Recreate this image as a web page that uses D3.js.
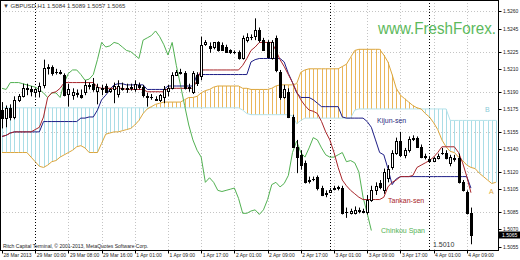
<!DOCTYPE html>
<html>
<head>
<meta charset="utf-8">
<script src="https://cdn.jsdelivr.net/npm/d3@7"></script>
<style>
  body { margin: 0; background: #fff; }
  svg text { font-family: "Liberation Sans", Arial, sans-serif; }
</style>
</head>
<body>
<div id="graph"></div>
<script>
// GBPUSD H1, first bar is 28 Mar 2013 16:00, one value per bar
let opens = [
  1.5174,1.5167,1.5176,1.5168,1.5183,1.5186,1.5193,1.5192,1.5190,1.5191,
  1.5196,1.5211,1.5212,1.5207,1.5207,1.5205,1.5188,1.5187,1.5189,1.5187,
  1.5190,1.5196,1.5197,1.5191,1.5193,1.5195,1.5191,1.5192,1.5188,1.5193,
  1.5192,1.5193,1.5192,1.5196,1.5194,1.5186,1.5185,1.5184,1.5183,1.5185,
  1.5191,1.5193,1.5205,1.5207,1.5206,1.5194,1.5190,1.5205,1.5204,1.5232,
  1.5230,1.5229,1.5233,1.5231,1.5229,1.5226,1.5225,1.5225,1.5219,1.5235,
  1.5238,1.5239,1.5244,1.5235,1.5233,1.5219,1.5237,1.5207,1.5185,1.5190,
  1.5168,1.5142,1.5135,1.5128,1.5113,1.5114,1.5116,1.5106,1.5101,1.5103,
  1.5105,1.5106,1.5106,1.5085,1.5084,1.5084,1.5087,1.5086,1.5085,1.5096,
  1.5104,1.5110,1.5104,1.5115,1.5124,1.5137,1.5147,1.5135,1.5139,1.5149,
  1.5150,1.5142,1.5133,1.5131,1.5130,1.5132,1.5137,1.5137,1.5128,1.5132,
  1.5132,1.5111,1.5103,1.5084];
let highs = [
  1.5181,1.5178,1.5179,1.5186,1.5188,1.5197,1.5197,1.5195,1.5193,1.5198,
  1.5218,1.5214,1.5213,1.5210,1.5209,1.5206,1.5197,1.5193,1.5192,1.5192,
  1.5200,1.5198,1.5202,1.5197,1.5196,1.5197,1.5193,1.5198,1.5200,1.5198,
  1.5197,1.5197,1.5200,1.5198,1.5196,1.5189,1.5188,1.5186,1.5188,1.5195,
  1.5196,1.5207,1.5209,1.5210,1.5208,1.5197,1.5208,1.5207,1.5238,1.5235,
  1.5233,1.5233,1.5234,1.5233,1.5231,1.5227,1.5226,1.5226,1.5239,1.5241,
  1.5240,1.5254,1.5246,1.5237,1.5235,1.5235,1.5239,1.5209,1.5196,1.5193,
  1.5170,1.5148,1.5139,1.5130,1.5116,1.5116,1.5117,1.5108,1.5104,1.5106,
  1.5108,1.5108,1.5108,1.5089,1.5088,1.5090,1.5089,1.5088,1.5100,1.5108,
  1.5111,1.5113,1.5123,1.5126,1.5139,1.5150,1.5155,1.5141,1.5151,1.5152,
  1.5151,1.5144,1.5136,1.5134,1.5133,1.5136,1.5141,1.5139,1.5135,1.5135,
  1.5136,1.5113,1.5104,1.5089];
let lows = [
  1.5158,1.5159,1.5165,1.5166,1.5181,1.5185,1.5187,1.5186,1.5185,1.5185,
  1.5193,1.5205,1.5204,1.5205,1.5205,1.5186,1.5177,1.5183,1.5185,1.5184,
  1.5187,1.5192,1.5190,1.5179,1.5187,1.5189,1.5189,1.5180,1.5185,1.5191,
  1.5189,1.5191,1.5190,1.5192,1.5185,1.5177,1.5183,1.5182,1.5181,1.5180,
  1.5186,1.5192,1.5204,1.5205,1.5192,1.5190,1.5188,1.5195,1.5200,1.5230,
  1.5224,1.5227,1.5225,1.5226,1.5224,1.5223,1.5223,1.5218,1.5218,1.5233,
  1.5235,1.5235,1.5233,1.5226,1.5219,1.5218,1.5207,1.5183,1.5184,1.5167,
  1.5141,1.5119,1.5122,1.5110,1.5110,1.5112,1.5104,1.5099,1.5098,1.5102,
  1.5104,1.5104,1.5083,1.5080,1.5083,1.5083,1.5084,1.5084,1.5083,1.5094,
  1.5100,1.5105,1.5101,1.5111,1.5122,1.5135,1.5133,1.5132,1.5137,1.5147,
  1.5141,1.5132,1.5131,1.5128,1.5129,1.5131,1.5135,1.5131,1.5125,1.5129,
  1.5110,1.5103,1.5083,1.5057];
let closes = [
  1.5167,1.5176,1.5168,1.5183,1.5186,1.5193,1.5192,1.5191,1.5192,1.5195,
  1.5211,1.5212,1.5206,1.5207,1.5206,1.5187,1.5192,1.5190,1.5188,1.5185,
  1.5196,1.5195,1.5192,1.5194,1.5192,1.5190,1.5192,1.5195,1.5195,1.5192,
  1.5193,1.5194,1.5197,1.5194,1.5187,1.5185,1.5185,1.5183,1.5187,1.5192,
  1.5193,1.5205,1.5207,1.5206,1.5193,1.5193,1.5206,1.5198,1.5231,1.5233,
  1.5228,1.5233,1.5226,1.5226,1.5225,1.5225,1.5225,1.5219,1.5237,1.5238,
  1.5238,1.5244,1.5235,1.5226,1.5220,1.5233,1.5209,1.5185,1.5192,1.5168,
  1.5142,1.5133,1.5126,1.5111,1.5112,1.5114,1.5106,1.5100,1.5102,1.5104,
  1.5106,1.5107,1.5084,1.5085,1.5086,1.5087,1.5086,1.5085,1.5096,1.5104,
  1.5108,1.5107,1.5120,1.5123,1.5137,1.5147,1.5135,1.5139,1.5149,1.5150,
  1.5142,1.5133,1.5134,1.5130,1.5132,1.5134,1.5137,1.5132,1.5133,1.5131,
  1.5111,1.5104,1.5084,1.5065];

// ichimoku lines, same bar index
let tenkan = [
  1.5151,1.5152,1.5154,1.5155,1.5155,1.5155,1.5155,1.5155,1.5157,1.5159,
  1.5168,1.5185,1.5189,1.5190,1.5193,1.5198,1.5198,1.5198,1.5198,1.5198,
  1.5198,1.5198,1.5198,1.5194,1.5193,1.5193,1.5193,1.5193,1.5193,1.5193,
  1.5192,1.5192,1.5192,1.5192,1.5192,1.5190,1.5190,1.5190,1.5190,1.5190,
  1.5193,1.5193,1.5193,1.5193,1.5193,1.5193,1.5193,1.5200,1.5209,1.5209,
  1.5209,1.5209,1.5209,1.5209,1.5209,1.5209,1.5209,1.5209,1.5213,1.5219,
  1.5226,1.5229,1.5233,1.5233,1.5233,1.5233,1.5226,1.5218,1.5212,1.5205,
  1.5198,1.5190,1.5183,1.5178,1.5174,1.5173,1.5171,1.5164,1.5155,1.5148,
  1.5137,1.5124,1.5113,1.5108,1.5104,1.5101,1.5098,1.5096,1.5096,1.5096,
  1.5096,1.5096,1.5098,1.5107,1.5111,1.5113,1.5116,1.5116,1.5116,1.5117,
  1.5124,1.5126,1.5128,1.5130,1.5133,1.5137,1.5142,1.5142,1.5142,1.5142,
  1.5137,1.5128,1.5116,1.5102];
let kijun = [
  1.5151,1.5152,1.5154,1.5155,1.5155,1.5155,1.5155,1.5155,1.5155,1.5155,
  1.5164,1.5164,1.5164,1.5164,1.5164,1.5164,1.5164,1.5164,1.5164,1.5167,
  1.5167,1.5168,1.5168,1.5174,1.5183,1.5187,1.5192,1.5196,1.5197,1.5197,
  1.5196,1.5196,1.5196,1.5196,1.5196,1.5192,1.5192,1.5192,1.5192,1.5192,
  1.5195,1.5195,1.5195,1.5195,1.5195,1.5195,1.5195,1.5205,1.5205,1.5205,
  1.5205,1.5205,1.5205,1.5205,1.5205,1.5205,1.5205,1.5205,1.5205,1.5205,
  1.5216,1.5218,1.5219,1.5219,1.5219,1.5219,1.5219,1.5219,1.5216,1.5206,
  1.5198,1.5189,1.5185,1.5185,1.5185,1.5183,1.5180,1.5177,1.5177,1.5177,
  1.5177,1.5177,1.5168,1.5167,1.5167,1.5167,1.5167,1.5167,1.5164,1.5159,
  1.5148,1.5137,1.5135,1.5123,1.5109,1.5114,1.5116,1.5116,1.5116,1.5116,
  1.5116,1.5116,1.5116,1.5116,1.5116,1.5116,1.5116,1.5116,1.5116,1.5116,
  1.5116,1.5116,1.5116,1.5106];
let chinkou = [
  1.5193,1.5192,1.5198,1.5198,1.5198,1.5197,1.5196,1.5195,1.5194,1.5192,
  1.5189,1.5185,1.5189,1.5189,1.5185,1.5198,1.5206,1.5209,1.5209,1.5205,
  1.5200,1.5201,1.5205,1.5218,1.5233,1.5229,1.5230,1.5233,1.5232,1.5229,
  1.5226,1.5225,1.5222,1.5219,1.5235,1.5237,1.5239,1.5243,1.5238,1.5231,
  1.5222,1.5233,1.5213,1.5196,1.5178,1.5161,1.5148,1.5139,1.5133,1.5111,
  1.5115,1.5111,1.5104,1.5103,1.5104,1.5105,1.5106,1.5097,1.5084,1.5084,
  1.5086,1.5087,1.5083,1.5087,1.5096,1.5109,1.5111,1.5107,1.5110,1.5117,
  1.5137,1.5147,1.5137,1.5133,1.5141,1.5150,1.5148,1.5141,1.5135,1.5133,
  1.5133,1.5135,1.5137,1.5129,1.5130,1.5128,1.5120,1.5098,1.5084,1.5069];
// cloud, runs past the last bar to the plot edge
let spanA = [
  1.5137,1.5137,1.5137,1.5137,1.5137,1.5137,1.5137,1.5133,1.5129,1.5125,
  1.5124,1.5126,1.5129,1.5130,1.5133,1.5135,1.5137,1.5139,1.5142,1.5143,
  1.5141,1.5137,1.5137,1.5137,1.5145,1.5153,1.5154,1.5155,1.5155,1.5156,
  1.5157,1.5158,1.5161,1.5165,1.5171,1.5175,1.5177,1.5179,1.5180,1.5181,
  1.5181,1.5181,1.5181,1.5181,1.5183,1.5185,1.5185,1.5186,1.5189,1.5191,
  1.5192,1.5194,1.5195,1.5195,1.5195,1.5195,1.5195,1.5195,1.5193,1.5193,
  1.5192,1.5192,1.5192,1.5192,1.5192,1.5193,1.5195,1.5196,1.5196,1.5196,
  1.5196,1.5197,1.5207,1.5209,1.5210,1.5210,1.5210,1.5210,1.5210,1.5210,
  1.5210,1.5210,1.5212,1.5214,1.5220,1.5226,1.5227,1.5227,1.5227,1.5227,
  1.5227,1.5227,1.5222,1.5216,1.5205,1.5193,1.5187,1.5184,1.5181,1.5178,
  1.5176,1.5175,1.5171,1.5168,1.5163,1.5157,1.5148,1.5142,1.5138,1.5137,
  1.5133,1.5130,1.5126,1.5124,1.5123,1.5119,1.5116,1.5113,1.5110,1.5111];
let spanB = [
  1.5176,1.5176,1.5176,1.5176,1.5176,1.5176,1.5176,1.5176,1.5176,1.5176,
  1.5176,1.5176,1.5176,1.5176,1.5176,1.5176,1.5176,1.5176,1.5176,1.5176,
  1.5176,1.5176,1.5176,1.5176,1.5176,1.5176,1.5176,1.5176,1.5176,1.5176,
  1.5176,1.5176,1.5176,1.5176,1.5176,1.5176,1.5176,1.5176,1.5176,1.5176,
  1.5176,1.5176,1.5176,1.5176,1.5176,1.5176,1.5176,1.5176,1.5176,1.5176,
  1.5176,1.5176,1.5176,1.5176,1.5176,1.5176,1.5176,1.5176,1.5174,1.5171,
  1.5170,1.5170,1.5170,1.5170,1.5170,1.5170,1.5170,1.5170,1.5170,1.5170,
  1.5169,1.5162,1.5165,1.5167,1.5167,1.5167,1.5167,1.5167,1.5167,1.5167,
  1.5167,1.5167,1.5167,1.5167,1.5167,1.5174,1.5175,1.5175,1.5175,1.5175,
  1.5175,1.5175,1.5175,1.5175,1.5175,1.5175,1.5175,1.5175,1.5175,1.5175,
  1.5175,1.5175,1.5175,1.5175,1.5175,1.5175,1.5175,1.5175,1.5165,1.5165,
  1.5165,1.5165,1.5165,1.5165,1.5165,1.5165,1.5165,1.5165,1.5165,1.5165];

// axis texts
let timeLabels = ["28 Mar 2013", "29 Mar 00:00", "29 Mar 08:00", "29 Mar 16:00",
  "1 Apr 01:00", "1 Apr 09:00", "1 Apr 17:00", "2 Apr 01:00", "2 Apr 09:00",
  "2 Apr 17:00", "3 Apr 01:00", "3 Apr 09:00", "3 Apr 17:00", "4 Apr 01:00",
  "4 Apr 09:00"];
let labelStep = 8;
let priceLabels = [1.5260, 1.5245, 1.5225, 1.5210, 1.5190, 1.5175, 1.5155,
  1.5140, 1.5120, 1.5105, 1.5085, 1.5070, 1.5055];
let gridPrices = [1.5260, 1.5225, 1.5190, 1.5155, 1.5120, 1.5085];
let separatorBars = [8, 79, 103];
let lastPrice = 1.5065;
let lowMark = 1.5010;

function drawChart() {
  let width = 520,
    height = 260,
    plotRight = 498,
    plotBottom = 250;

  let svg = d3
    .select("#graph")
    .append("svg")
    .attr("width", width)
    .attr("height", height)
    .style("display", "block");

  // bar index -> x, price -> y
  let x = d3.scaleLinear().domain([0, 100]).range([2, 417]);
  let y = d3.scaleLinear().domain([1.5052, 1.527]).range([plotBottom, 0]);
  let px = (i) => Math.round(x(i)) + 0.5;
  let py = (p) => Math.round(y(p)) + 0.5;

  svg.append("clipPath").attr("id", "plotClip").append("rect")
    .attr("x", 0).attr("y", 0).attr("width", plotRight).attr("height", plotBottom);
  let plot = svg.append("g").attr("clip-path", "url(#plotClip)");

  //dotted grid
  plot.selectAll(".hgrid").data(gridPrices).join("line")
    .attr("x1", 0).attr("x2", plotRight)
    .attr("y1", py).attr("y2", py)
    .attr("stroke", "#c4c4c4").attr("stroke-dasharray", "1,2");
  let labelBars = timeLabels.map((d, i) => i * labelStep);
  plot.selectAll(".vgrid").data(labelBars.slice(1)).join("line")
    .attr("x1", px).attr("x2", px)
    .attr("y1", 0).attr("y2", plotBottom)
    .attr("stroke", "#c4c4c4").attr("stroke-dasharray", "1,2");

  //day separators
  plot.selectAll(".sep").data(separatorBars).join("line")
    .attr("x1", px).attr("x2", px)
    .attr("y1", 0).attr("y2", plotBottom)
    .attr("stroke", "#000").attr("stroke-dasharray", "1,2");

  //cloud hatch, one stroke per bar
  plot.selectAll(".kumo").data(spanA).join("line")
    .attr("x1", (d, i) => px(i)).attr("x2", (d, i) => px(i))
    .attr("y1", (d) => y(d)).attr("y2", (d, i) => y(spanB[i]))
    .attr("stroke", (d, i) => (d > spanB[i] ? "#eab65a" : "#aadde6"))
    .attr("stroke-width", 1);

  let line = d3.line().x((d, i) => x(i)).y((d) => y(d));
  let addLine = (values, color) =>
    plot.append("path").datum(values)
      .attr("d", line).attr("fill", "none")
      .attr("stroke", color).attr("stroke-width", 1);

  addLine(spanB, "#b4e2ea");
  addLine(spanA, "#dca63c");
  addLine(chinkou, "#52b152");
  addLine(kijun, "#1e1e86");
  addLine(tenkan, "#a8252a");

  //candles
  let candles = plot.selectAll(".candle").data(opens).join("g");
  candles.append("line")
    .attr("x1", (d, i) => px(i)).attr("x2", (d, i) => px(i))
    .attr("y1", (d, i) => y(highs[i])).attr("y2", (d, i) => y(lows[i]))
    .attr("stroke", "#000");
  candles.append("rect")
    .attr("x", (d, i) => px(i) - 1)
    .attr("width", 2)
    .attr("y", (d, i) => py(Math.max(d, closes[i])))
    .attr("height", (d, i) => Math.max(py(Math.min(d, closes[i])) - py(Math.max(d, closes[i])), 0.01))
    .attr("fill", (d, i) => (closes[i] >= d ? "#fff" : "#000"))
    .attr("stroke", "#000");

  //watermark, squeezed a little to end at the price axis
  plot.append("text")
    .attr("transform", "translate(378,34) scale(0.92,1)")
    .attr("font-size", 16.5).attr("fill", "#5cb95c")
    .text("www.FreshForex.");
  let note = (tx, ty, txt, color, size) =>
    plot.append("text").attr("x", tx).attr("y", ty)
      .attr("font-size", size).attr("fill", color).text(txt);
  note(377, 123, "Kijun-sen", "#2a2a80", 7);
  note(388, 203, "Tankan-sen", "#a8252a", 7);
  note(381, 233, "Chinkou Span", "#52b152", 7);
  note(485, 112, "B", "#8ccbd8", 7);
  note(489, 194, "A", "#dca63c", 7);
  note(433, 247, lowMark.toFixed(4), "#333", 7);
  note(3, 8, "\u25BC GBPUSD,H1  1.5084 1.5089 1.5057 1.5065", "#333", 6);
  note(3, 248, "Ritch Capital Terminal, \u00A9 2001-2013, MetaQuotes Software Corp.", "#222", 5);

  //frame
  svg.append("rect").attr("x", 0.5).attr("y", 0.5)
    .attr("width", plotRight).attr("height", plotBottom)
    .attr("fill", "none").attr("stroke", "#000");

  //price axis
  svg.selectAll(".ptick").data(priceLabels).join("line")
    .attr("x1", plotRight + 0.5).attr("x2", plotRight + 3.5)
    .attr("y1", py).attr("y2", py).attr("stroke", "#000");
  svg.selectAll(".plabel").data(priceLabels).join("text")
    .attr("x", 503).attr("y", (d) => y(d) + 2)
    .attr("font-size", 5).attr("fill", "#222")
    .text((d) => d.toFixed(4));
  svg.append("rect").attr("x", 499).attr("y", Math.round(y(lastPrice)) - 3.5)
    .attr("width", 21).attr("height", 7).attr("fill", "#000");
  svg.append("text").attr("x", 502).attr("y", y(lastPrice) + 2)
    .attr("font-size", 5).attr("fill", "#fff").text(lastPrice.toFixed(4));

  //time axis
  svg.selectAll(".ttick").data(labelBars).join("line")
    .attr("x1", px).attr("x2", px)
    .attr("y1", plotBottom + 0.5).attr("y2", plotBottom + 3.5)
    .attr("stroke", "#000");
  svg.selectAll(".tlabel").data(timeLabels).join("text")
    .attr("x", (d, i) => Math.max(x(labelBars[i]) + 1.5, 2))
    .attr("y", 257)
    .attr("font-size", 5).attr("fill", "#222")
    .text((d) => d);
}

drawChart();
</script>
</body>
</html>
